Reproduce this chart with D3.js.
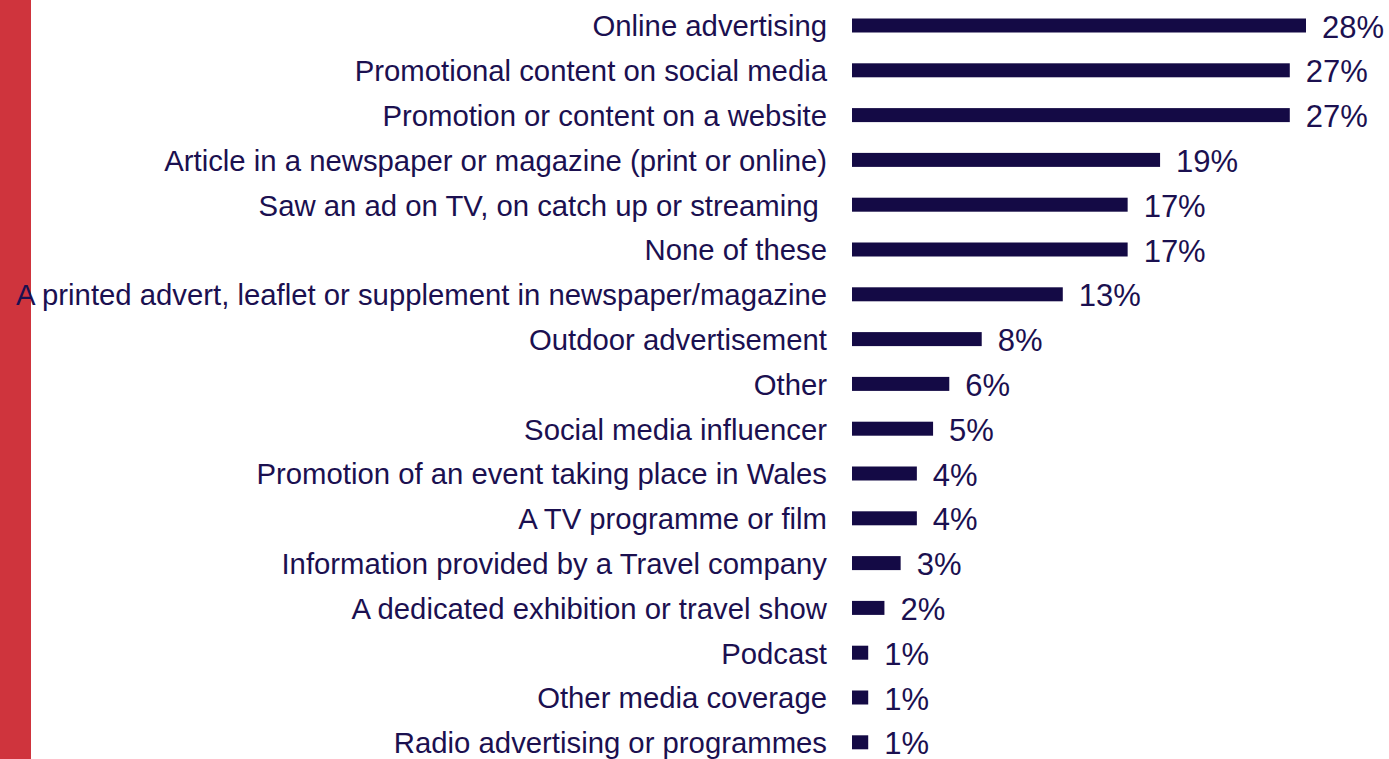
<!DOCTYPE html>
<html>
<head>
<meta charset="utf-8">
<script src="https://cdn.jsdelivr.net/npm/d3@7"></script>
<style>
  html, body { margin: 0; padding: 0; background: #fff; }
  svg { display: block; }
  text { font-family: "Liberation Sans", Arial, sans-serif; white-space: pre; }
</style>
</head>
<body>
<svg id="chart" width="1389" height="759"></svg>
<script>
// Sources of inspiration (share of respondents)
const categories = [
  "Online advertising",
  "Promotional content on social media",
  "Promotion or content on a website",
  "Article in a newspaper or magazine (print or online)",
  "Saw an ad on TV, on catch up or streaming ",
  "None of these",
  "A printed advert, leaflet or supplement in newspaper/magazine",
  "Outdoor advertisement",
  "Other",
  "Social media influencer",
  "Promotion of an event taking place in Wales",
  "A TV programme or film",
  "Information provided by a Travel company",
  "A dedicated exhibition or travel show",
  "Podcast",
  "Other media coverage",
  "Radio advertising or programmes"
];
const values = [28, 27, 27, 19, 17, 17, 13, 8, 6, 5, 4, 4, 3, 2, 1, 1, 1];

const W = 1389, H = 759;
const svg = d3.select("#chart");
const textColor = "#1b1050";
const barColor = "#140a45";

const x0 = 852;
const x = d3.scaleLinear().domain([0, 28]).range([x0, 1306]);
const step = 44.8;
const y = d3.scaleBand().domain(categories).range([3.1, 3.1 + step * categories.length]).paddingInner(0.68).paddingOuter(0.34);
const mid = d => y(d) + y.bandwidth() / 2;

const rows = svg.append("g").selectAll("g").data(categories).join("g");

rows.append("rect")
  .attr("x", x(0))
  .attr("y", d => mid(d) - 7)
  .attr("width", (d, i) => x(values[i]) - x(0))
  .attr("height", 14)
  .attr("fill", barColor);

rows.append("text")
  .attr("x", x0 - 25)
  .attr("y", mid)
  .attr("dy", "0.37em")
  .attr("text-anchor", "end")
  .attr("font-size", 29.3)
  .attr("fill", textColor)
  .text(d => d);

rows.append("text")
  .attr("x", (d, i) => x(values[i]) + 16)
  .attr("y", mid)
  .attr("dy", "0.39em")
  .attr("font-size", 31)
  .attr("fill", textColor)
  .text((d, i) => values[i] + "%");

// red accent strip on the left edge, drawn under the labels
svg.insert("rect", "g").attr("x", 0).attr("y", 0).attr("width", 31).attr("height", H).attr("fill", "#cf343d");
</script>
</body>
</html>
